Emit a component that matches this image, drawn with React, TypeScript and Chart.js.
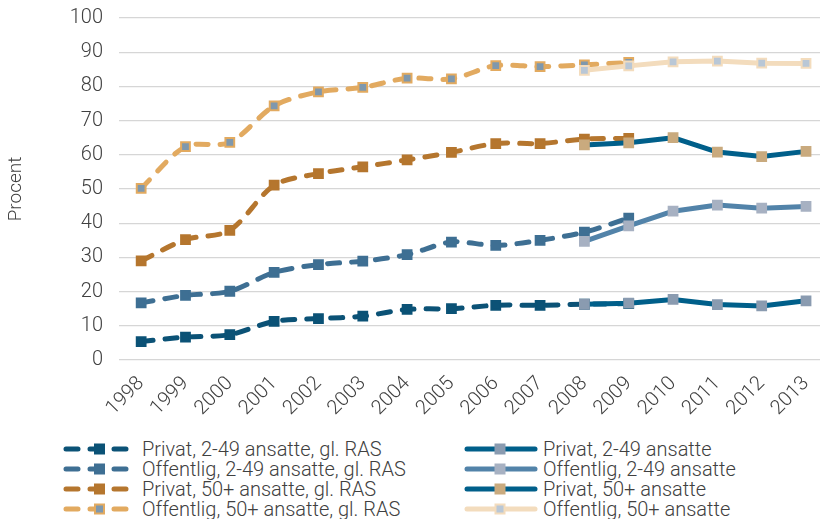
import React, { useEffect, useRef } from "react";
import { Chart, registerables } from "chart.js";
Chart.register(...registerables);

const years = ["1998", "1999", "2000", "2001", "2002", "2003", "2004", "2005", "2006", "2007", "2008", "2009", "2010", "2011", "2012", "2013"];

const privat249Old = [5.4, 6.7, 7.4, 11.3, 12.1, 12.8, 14.8, 15.0, 16.0, 16.0, 16.3, 16.5, null, null, null, null];
const offentlig249Old = [16.7, 18.9, 20.1, 25.6, 27.9, 28.9, 30.8, 34.5, 33.5, 35.0, 37.4, 41.5, null, null, null, null];
const privat50Old = [29.0, 35.2, 37.9, 51.1, 54.5, 56.5, 58.5, 60.7, 63.3, 63.3, 64.6, 64.8, null, null, null, null];
const offentlig50Old = [50.2, 62.4, 63.6, 74.3, 78.4, 79.7, 82.4, 82.2, 86.1, 85.8, 86.3, 87.0, null, null, null, null];

const privat249New = [null, null, null, null, null, null, null, null, null, null, 16.3, 16.6, 17.7, 16.2, 15.8, 17.3];
const offentlig249New = [null, null, null, null, null, null, null, null, null, null, 34.7, 39.2, 43.5, 45.3, 44.4, 44.9];
const privat50New = [null, null, null, null, null, null, null, null, null, null, 62.9, 63.5, 65.0, 60.8, 59.5, 61.0];
const offentlig50New = [null, null, null, null, null, null, null, null, null, null, 84.7, 86.0, 87.2, 87.4, 86.8, 86.7];

const labelsOld = ["Privat, 2-49 ansatte, gl. RAS", "Offentlig, 2-49 ansatte, gl. RAS", "Privat, 50+ ansatte, gl. RAS", "Offentlig, 50+ ansatte, gl. RAS"];
const labelsNew = ["Privat, 2-49 ansatte", "Offentlig, 2-49 ansatte", "Privat, 50+ ansatte", "Offentlig, 50+ ansatte"];

const yTickMin = 0;
const yTickMax = 100;
const yTickStep = 10;

const oldStyles = [
  { line: "#0b5276", fill: "#0b5276", border: "#0b5276" },
  { line: "#3e6f93", fill: "#3e6f93", border: "#3e6f93" },
  { line: "#b5762e", fill: "#b5762e", border: "#b5762e" },
  { line: "#e2aa60", fill: "#7f98ad", border: "#e2aa60" },
];
const newStyles = [
  { line: "#005f8a", fill: "#8a9bb0", border: "#8a9bb0" },
  { line: "#5283a9", fill: "#a7b1c2", border: "#a7b1c2" },
  { line: "#005f8a", fill: "#c9aa7e", border: "#c9aa7e" },
  { line: "#f3dcbd", fill: "#b9c7d6", border: "#f3dcbd" },
];

const FONT = "Roboto, 'Liberation Sans', sans-serif";
const TEXT = "#404040";

function Sample({ dashed, style }: { dashed: boolean; style: { line: string; fill: string; border: string } }) {
  if (dashed) {
    return (
      <svg width="70" height="12" style={{ display: "block" }}>
        <line x1="4" y1="6" x2="66" y2="6" stroke={style.line} strokeWidth="5" strokeLinecap="round" strokeDasharray="12 12" />
        <rect x="33" y="1.5" width="9" height="9" fill={style.fill} stroke={style.border} strokeWidth="2" />
      </svg>
    );
  }
  return (
    <svg width="74" height="12" style={{ display: "block" }}>
      <line x1="3" y1="6" x2="71" y2="6" stroke={style.line} strokeWidth="5" strokeLinecap="round" />
      <rect x="31.5" y="1.5" width="9" height="9" fill={style.fill} stroke={style.border} strokeWidth="2" />
    </svg>
  );
}

export default function App() {
  const ref = useRef<HTMLCanvasElement | null>(null);

  useEffect(() => {
    if (!ref.current) return;
    const mk = (label: string, data: (number | null)[], st: any, dashed: boolean) => ({
      label,
      data,
      borderColor: st.line,
      backgroundColor: st.line,
      borderWidth: 5,
      borderDash: dashed ? [12, 12] : [],
      borderCapStyle: "round" as const,
      borderJoinStyle: "round" as const,
      tension: dashed ? 0.3 : 0,
      pointStyle: "rect" as const,
      pointRadius: 6.2,
      pointBackgroundColor: st.fill,
      pointBorderColor: st.border,
      pointBorderWidth: 2,
      spanGaps: false,
    });
    const chart = new Chart(ref.current, {
      type: "line",
      data: {
        labels: years,
        datasets: [
          mk(labelsNew[3], offentlig50New, newStyles[3], false),
          mk(labelsNew[2], privat50New, newStyles[2], false),
          mk(labelsNew[1], offentlig249New, newStyles[1], false),
          mk(labelsNew[0], privat249New, newStyles[0], false),
          mk(labelsOld[3], offentlig50Old, oldStyles[3], true),
          mk(labelsOld[2], privat50Old, oldStyles[2], true),
          mk(labelsOld[1], offentlig249Old, oldStyles[1], true),
          mk(labelsOld[0], privat249Old, oldStyles[0], true),
        ],
      },
      options: {
        responsive: false,
        devicePixelRatio: 1,
        animation: false,
        layout: { autoPadding: false, padding: { top: 17, left: 0, right: 0, bottom: 0 } },
        plugins: { legend: { display: false }, tooltip: { enabled: false } },
        scales: {
          x: {
            offset: true,
            grid: { display: false, drawTicks: false },
            border: { display: false },
            ticks: {
              color: TEXT,
              font: { family: FONT, size: 20, weight: 300 },
              maxRotation: 45,
              minRotation: 45,
              padding: 12,
              autoSkip: false,
            },
            afterFit: (s: any) => { s.height = 62; },
          },
          y: {
            min: yTickMin,
            max: yTickMax,
            ticks: {
              stepSize: yTickStep,
              color: TEXT,
              font: { family: FONT, size: 20, weight: 300 },
              padding: 16,
            },
            grid: { color: "#d6d6d6", lineWidth: 1.3, drawTicks: false },
            border: { display: false },
            title: {
              display: true,
              text: "Procent",
              color: TEXT,
              font: { family: FONT, size: 19, weight: 300 },
              padding: { top: 5, bottom: 0 },
            },
            afterFit: (s: any) => { s.width = 119; },
          },
        },
      },
    });
    return () => chart.destroy();
  }, []);

  const rows = [449, 469, 489, 509];

  return (
    <div style={{ position: "fixed", left: 0, top: 0, width: 820, height: 519, overflow: "hidden", background: "#fff" }}>
      <canvas ref={ref} width={835} height={432} style={{ position: "absolute", left: 0, top: -10 }} />
      {rows.map((y, i) => (
        <React.Fragment key={i}>
          <div style={{ position: "absolute", left: 62, top: y - 6 }}>
            <Sample dashed={true} style={oldStyles[i]} />
          </div>
          <div style={{ position: "absolute", left: 142, top: y - 10, height: 20, lineHeight: "20px", fontFamily: FONT, fontWeight: 300, fontSize: 20, color: TEXT, whiteSpace: "nowrap" }}>
            {labelsOld[i]}
          </div>
          <div style={{ position: "absolute", left: 464, top: y - 6 }}>
            <Sample dashed={false} style={newStyles[i]} />
          </div>
          <div style={{ position: "absolute", left: 543, top: y - 10, height: 20, lineHeight: "20px", fontFamily: FONT, fontWeight: 300, fontSize: 20, color: TEXT, whiteSpace: "nowrap" }}>
            {labelsNew[i]}
          </div>
        </React.Fragment>
      ))}
    </div>
  );
}
